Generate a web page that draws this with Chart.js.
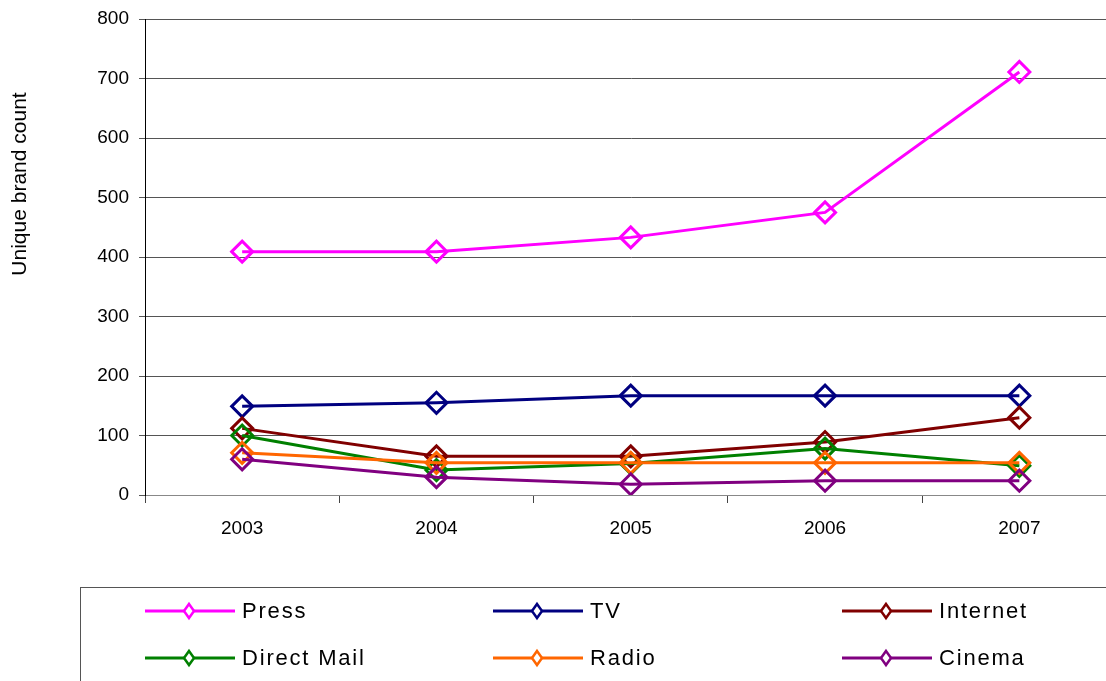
<!DOCTYPE html>
<html>
<head>
<meta charset="utf-8">
<script src="https://cdn.jsdelivr.net/npm/chart.js@4"></script>
<style>
  html, body { margin: 0; padding: 0; background: #fff; overflow: hidden; }
  #wrap { width: 1130px; height: 681px; }
</style>
</head>
<body>
<div id="wrap"><canvas id="brandChart" width="1130" height="681"></canvas></div>
<script>
// Unique brands advertising per medium, 2003-2007
const years = ['2003', '2004', '2005', '2006', '2007'];
const press = [409, 409, 433, 475, 711];
const tv = [149, 155, 167, 167, 167];
const internet = [112, 65, 65, 89, 130];
const directMail = [100, 42, 53, 78, 49];
const radio = [71, 54, 54, 54, 54];
const cinema = [60, 30, 18, 24, 24];
const yTicks = [0, 100, 200, 300, 400, 500, 600, 700, 800];

const seriesNames = ['Press', 'TV', 'Internet', 'Direct Mail', 'Radio', 'Cinema'];
const seriesData = [press, tv, internet, directMail, radio, cinema];
const seriesColors = ['#FF00FF', '#000080', '#800000', '#008000', '#FF6600', '#800080'];

const FONT = '"Liberation Sans", Arial, sans-serif';

// axis title and the boxed legend below the plot
const extrasPlugin = {
    id: 'extras',
    afterDraw(chart) {
        const ctx = chart.ctx;
        ctx.save();
        // y axis title
        ctx.translate(20, 184);
        ctx.rotate(-Math.PI / 2);
        ctx.fillStyle = '#000';
        ctx.font = '21px ' + FONT;
        ctx.textAlign = 'center';
        ctx.textBaseline = 'middle';
        ctx.fillText('Unique brand count', 0, 0);
        ctx.restore();

        // legend box
        ctx.save();
        ctx.strokeStyle = '#555';
        ctx.lineWidth = 1;
        ctx.strokeRect(80.5, 587.5, 1200, 200);
        const colX = [145, 493, 842];
        const rowY = [611, 658];
        chart.data.datasets.forEach((ds, i) => {
            const x = colX[i % 3];
            const y = rowY[Math.floor(i / 3)];
            ctx.strokeStyle = ds.borderColor;
            ctx.lineWidth = 3;
            ctx.beginPath();
            ctx.moveTo(x, y);
            ctx.lineTo(x + 90, y);
            ctx.stroke();
            const mx = x + 44;
            const r = 7;
            ctx.fillStyle = '#fff';
            ctx.lineWidth = 2.5;
            ctx.beginPath();
            ctx.moveTo(mx, y - r);
            ctx.lineTo(mx + 5, y);
            ctx.lineTo(mx, y + r);
            ctx.lineTo(mx - 5, y);
            ctx.closePath();
            ctx.fill();
            ctx.stroke();
            ctx.fillStyle = '#000';
            ctx.font = '22px ' + FONT;
            ctx.letterSpacing = '1.8px';
            ctx.textAlign = 'left';
            ctx.textBaseline = 'middle';
            ctx.fillText(ds.label, x + 97, y + 1);
        });
        ctx.restore();
    }
};

const brandCtx = document.getElementById('brandChart').getContext('2d');
const brandChart = new Chart(brandCtx, {
    type: 'line',
    data: {
        labels: years,
        datasets: seriesNames.map((name, i) => ({
            label: name,
            data: seriesData[i],
            borderColor: seriesColors[i],
            backgroundColor: 'rgba(0,0,0,0)',
            borderWidth: 3,
            pointStyle: 'rectRot',
            pointRadius: 10.5,
            pointBorderWidth: 3,
            pointBackgroundColor: 'rgba(0,0,0,0)',
            pointBorderColor: seriesColors[i],
            tension: 0,
            order: seriesNames.length - i
        }))
    },
    options: {
        responsive: false,
        animation: false,
        layout: { padding: { top: 10, right: 12, left: 0, bottom: 0 } },
        plugins: {
            legend: { display: false },
            tooltip: { enabled: false }
        },
        scales: {
            x: {
                offset: true,
                grid: {
                    display: true,
                    drawOnChartArea: false,
                    drawTicks: true,
                    tickLength: 8,
                    color: '#444',
                    offset: true
                },
                border: { display: true, color: '#888', width: 1 },
                ticks: {
                    color: '#000',
                    font: { family: FONT, size: 19 },
                    padding: 14,
                    maxRotation: 0
                },
                afterFit(scale) { scale.height = 186; }
            },
            y: {
                min: 0,
                max: 800,
                afterBuildTicks(scale) { scale.ticks = yTicks.map(v => ({ value: v })); },
                grid: {
                    color: '#555',
                    lineWidth: 1,
                    drawTicks: true,
                    tickLength: 6
                },
                border: { display: true, color: '#000', width: 1 },
                ticks: {
                    color: '#000',
                    font: { family: FONT, size: 19, lineHeight: 0.95 },
                    padding: 10
                },
                afterFit(scale) { scale.width = 145; }
            }
        }
    },
    plugins: [extrasPlugin]
});
</script>
</body>
</html>
